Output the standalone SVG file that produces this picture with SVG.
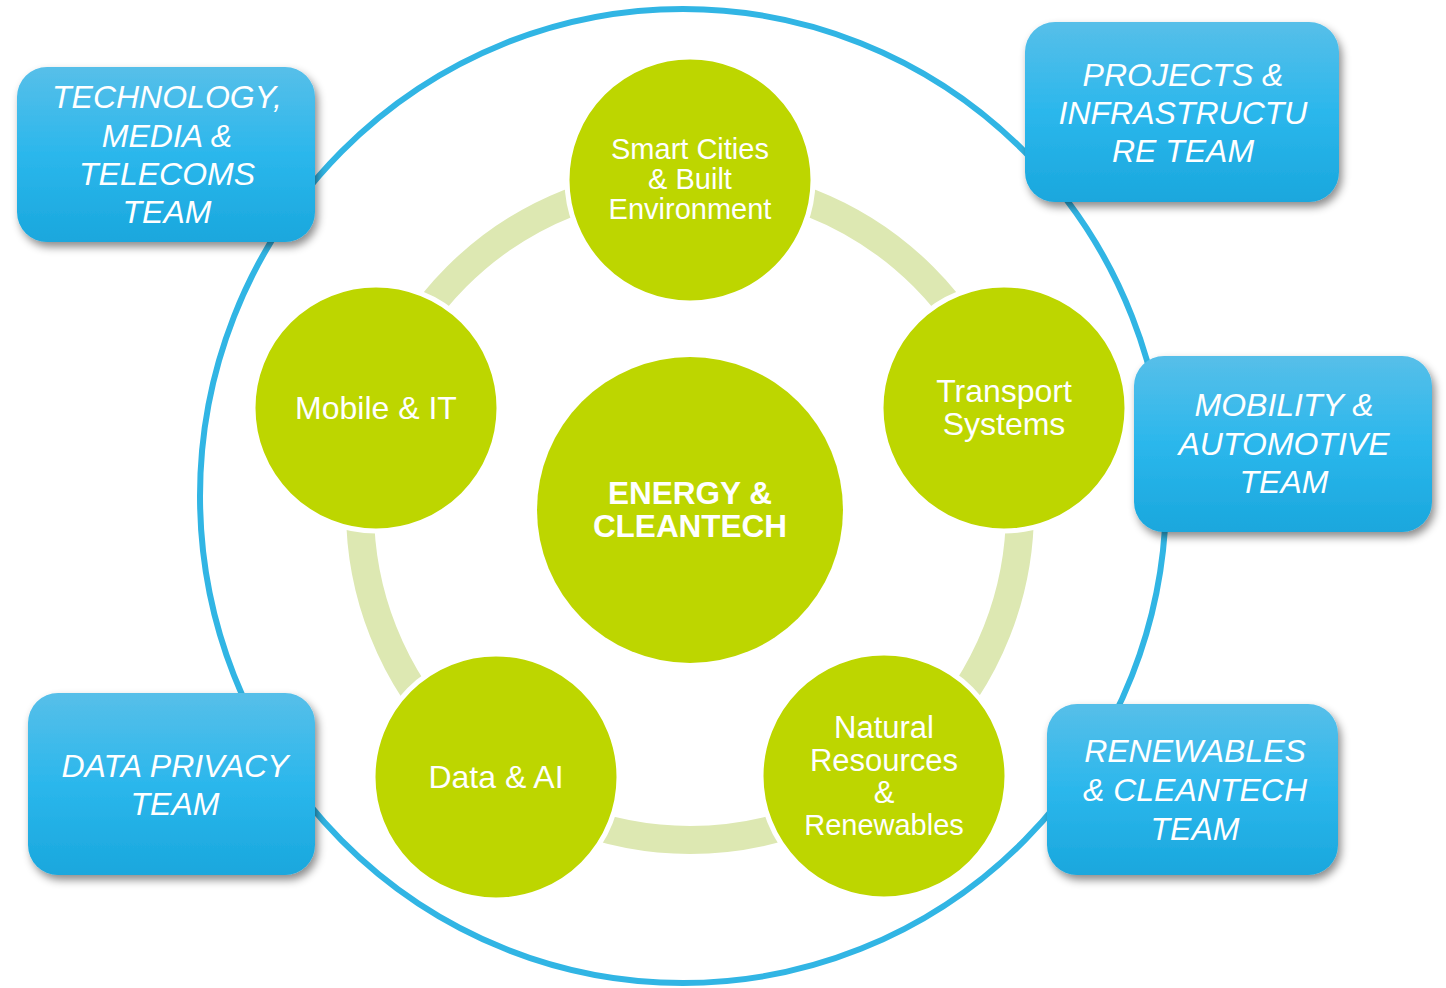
<svg xmlns="http://www.w3.org/2000/svg" width="1446" height="988" viewBox="0 0 1446 988">
<defs>
<linearGradient id="bg" x1="0" y1="0" x2="0" y2="1">
<stop offset="0" stop-color="#57bfe9"/>
<stop offset="0.5" stop-color="#2bb7ec"/>
<stop offset="1" stop-color="#1aa7dd"/>
</linearGradient>
<filter id="sh" x="-10%" y="-10%" width="125%" height="130%">
<feDropShadow dx="3" dy="5" stdDeviation="4" flood-color="#000" flood-opacity="0.45"/>
</filter>
<style>
.box{fill:url(#bg);filter:url(#sh)}
.bt{font-family:"Liberation Sans",Arial,sans-serif;font-style:italic;font-size:32px;fill:#fff;text-anchor:middle}
.node{fill:#bdd600;stroke:#fff;stroke-width:5}
.nt{font-family:"Liberation Sans",Arial,sans-serif;font-size:32px;fill:#fff;text-anchor:middle}
.ns{font-size:29px}
.ct{font-family:"Liberation Sans",Arial,sans-serif;font-weight:bold;font-size:31.5px;fill:#fff;text-anchor:middle}
</style>
</defs>
<rect width="1446" height="988" fill="#fff"/>
<g id="connectors">
<ellipse cx="683" cy="496" rx="483" ry="487" fill="none" stroke="#31b5e4" stroke-width="6"/>
<circle cx="690" cy="510" r="330" fill="none" stroke="#dde8b2" stroke-width="28"/>
</g>
<g id="center">
<circle cx="690" cy="510" r="153" fill="#bdd600"/>
<text class="ct" x="690" y="504">ENERGY &amp;</text>
<text class="ct" x="690" y="537">CLEANTECH</text>
</g>
<g id="smart-cities">
<circle class="node" cx="690" cy="180" r="123"/>
<text class="nt ns" x="690" y="159">Smart Cities</text>
<text class="nt ns" x="690" y="189">&amp; Built</text>
<text class="nt ns" x="690" y="219">Environment</text>
</g>
<g id="transport">
<circle class="node" cx="1004" cy="408" r="123"/>
<text class="nt" x="1004" y="402">Transport</text>
<text class="nt" x="1004" y="435">Systems</text>
</g>
<g id="natural-resources">
<circle class="node" cx="884" cy="776" r="123"/>
<text class="nt" x="884" y="738" style="font-size:31px">Natural</text>
<text class="nt" x="884" y="771" style="font-size:31px">Resources</text>
<text class="nt" x="884" y="803" style="font-size:31px">&amp;</text>
<text class="nt ns" x="884" y="835">Renewables</text>
</g>
<g id="data-ai">
<circle class="node" cx="496" cy="777" r="123"/>
<text class="nt" x="496" y="788">Data &amp; AI</text>
</g>
<g id="mobile-it">
<circle class="node" cx="376" cy="408" r="123"/>
<text class="nt" x="376" y="419">Mobile &amp; IT</text>
</g>
<g id="tmt-team">
<rect class="box" x="17" y="67" width="298" height="175" rx="30"/>
<text class="bt" x="167" y="108">TECHNOLOGY,</text>
<text class="bt" x="167" y="147">MEDIA &amp;</text>
<text class="bt" x="167" y="185">TELECOMS</text>
<text class="bt" x="167" y="223">TEAM</text>
</g>
<g id="projects-team">
<rect class="box" x="1025" y="22" width="314" height="180" rx="30"/>
<text class="bt" x="1183" y="86">PROJECTS &amp;</text>
<text class="bt" x="1183" y="124">INFRASTRUCTU</text>
<text class="bt" x="1183" y="162">RE TEAM</text>
</g>
<g id="mobility-team">
<rect class="box" x="1134" y="356" width="298" height="176" rx="30"/>
<text class="bt" x="1284" y="416">MOBILITY &amp;</text>
<text class="bt" x="1284" y="455">AUTOMOTIVE</text>
<text class="bt" x="1284" y="493">TEAM</text>
</g>
<g id="data-privacy-team">
<rect class="box" x="28" y="693" width="287" height="182" rx="30"/>
<text class="bt" x="175" y="777">DATA PRIVACY</text>
<text class="bt" x="175" y="815">TEAM</text>
</g>
<g id="renewables-team">
<rect class="box" x="1047" y="704" width="291" height="171" rx="30"/>
<text class="bt" x="1195" y="762">RENEWABLES</text>
<text class="bt" x="1195" y="801">&amp; CLEANTECH</text>
<text class="bt" x="1195" y="840">TEAM</text>
</g>
</svg>
